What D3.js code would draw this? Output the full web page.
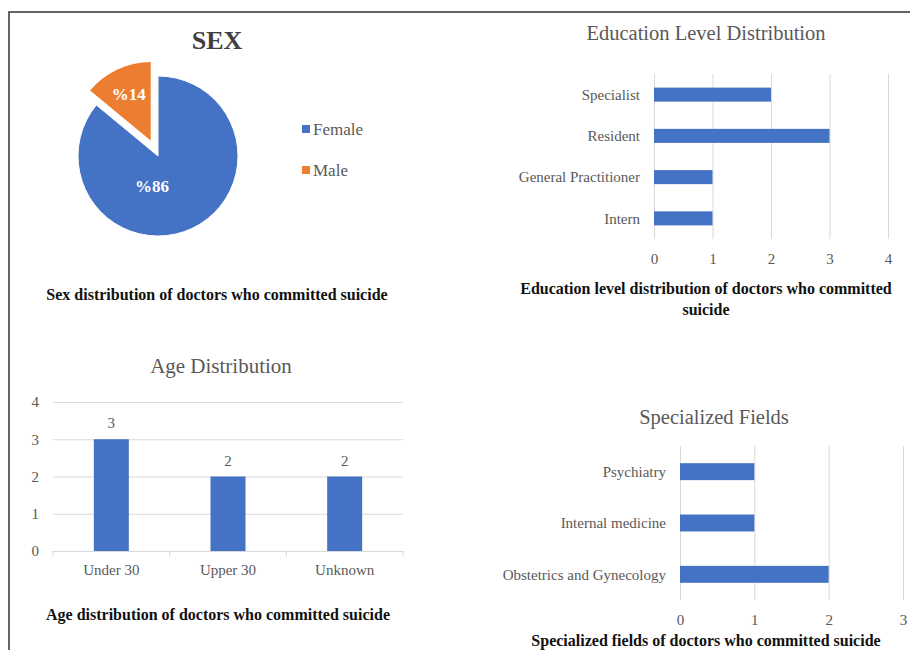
<!DOCTYPE html>
<html>
<head>
<meta charset="utf-8">
<script src="https://cdn.jsdelivr.net/npm/d3@7"></script>
<style>
  body { margin: 0; background: #fff; }
  text { font-family: "Liberation Serif", "Times New Roman", serif; }
</style>
</head>
<body>
<div id="chart"></div>
<script>
// sex pie
const sexLabels = ["Female", "Male"];
const sexValues = [86, 14];
const sexColors = ["#4472C4", "#ED7D31"];

// education level (top to bottom)
const eduLevels = ["Specialist", "Resident", "General Practitioner", "Intern"];
const eduCounts = [2, 3, 1, 1];
const eduTicks = [0, 1, 2, 3, 4];

// age groups
const ageGroups = ["Under 30", "Upper 30", "Unknown"];
const ageCounts = [3, 2, 2];
const ageTicks = [0, 1, 2, 3, 4];

// specialized fields (top to bottom)
const fields = ["Psychiatry", "Internal medicine", "Obstetrics and Gynecology"];
const fieldCounts = [1, 1, 2];
const fieldTicks = [0, 1, 2, 3];

const blue = "#4472C4";
const gray = "#595959";
const grid = "#d9d9d9";

const svg = d3.select("#chart")
  .append("svg")
  .attr("width", 910)
  .attr("height", 650);

// page frame lines
svg.append("path")
  .attr("d", d3.line()([[9, 650], [9, 12], [910, 12]]))
  .attr("stroke", "#333")
  .attr("stroke-width", 1.5)
  .attr("fill", "none");

const caption = (x, y, lines) => {
  const t = svg.append("text")
    .attr("x", x)
    .attr("y", y)
    .attr("text-anchor", "middle")
    .attr("font-size", 16)
    .attr("font-weight", "bold")
    .attr("fill", "#111");
  lines.forEach((l, i) => {
    t.append("tspan").attr("x", x).attr("dy", i === 0 ? 0 : 21).text(l);
  });
};

// ---------- SEX pie ----------
svg.append("text")
  .text("SEX")
  .attr("x", 217)
  .attr("y", 49)
  .attr("text-anchor", "middle")
  .attr("font-size", 26)
  .attr("font-weight", "bold")
  .attr("fill", "#404040");

const pieData = sexLabels.map((l, i) => ({ label: l, value: sexValues[i], color: sexColors[i] }));
const pie = d3.pie().sort(null).value(d => d.value);
const arcs = pie(pieData);
const radius = 80;
const arc = d3.arc().innerRadius(0).outerRadius(radius);
const labelArc = d3.arc().innerRadius(radius * 0.55).outerRadius(radius * 0.55);

const pieG = svg.append("g").attr("transform", "translate(158,156)");

pieG.selectAll("g.slice")
  .data(arcs)
  .enter()
  .append("g")
  .attr("class", "slice")
  .attr("transform", d => {
    if (d.data.label !== "Male") return null;
    const mid = (d.startAngle + d.endAngle) / 2;
    return `translate(${Math.sin(mid) * 16},${-Math.cos(mid) * 16})`;
  })
  .each(function (d) {
    const g = d3.select(this);
    g.append("path")
      .attr("d", arc(d))
      .attr("fill", d.data.color)
      .attr("stroke", "#fff")
      .attr("stroke-width", 1);
    const c = d.data.label === "Male" ? labelArc.centroid(d).map(v => v * 1.2) : [-6, 30];
    g.append("text")
      .text("%" + d.data.value)
      .attr("x", c[0])
      .attr("y", c[1])
      .attr("dy", "0.35em")
      .attr("text-anchor", "middle")
      .attr("font-size", 17)
      .attr("font-weight", "bold")
      .attr("fill", "#fff");
  });

const legend = svg.append("g");
legend.selectAll("rect")
  .data(pieData)
  .enter()
  .append("rect")
  .attr("x", 302)
  .attr("y", (d, i) => 125 + i * 41)
  .attr("width", 8)
  .attr("height", 8)
  .attr("fill", d => d.color);
legend.selectAll("text")
  .data(pieData)
  .enter()
  .append("text")
  .text(d => d.label)
  .attr("x", 313)
  .attr("y", (d, i) => 129 + i * 41)
  .attr("dy", "0.35em")
  .attr("font-size", 17)
  .attr("fill", gray);

caption(217, 300, ["Sex distribution of doctors who committed suicide"]);

// ---------- horizontal bar helper ----------
const hbar = (opts) => {
  const x = d3.scaleLinear().domain([0, d3.max(opts.ticks)]).range(opts.xr);
  const y = d3.scaleBand().domain(opts.cats).range(opts.yr)
    .paddingInner(opts.pad).paddingOuter(opts.pad / 2);

  svg.append("text")
    .text(opts.title)
    .attr("x", opts.titleX)
    .attr("y", opts.titleY)
    .attr("text-anchor", "middle")
    .attr("font-size", 20.5)
    .attr("fill", gray);

  const ax = svg.append("g")
    .attr("transform", `translate(0,${opts.yr[1]})`)
    .call(d3.axisBottom(x).tickValues(opts.ticks).tickFormat(d3.format("d"))
      .tickSize(-(opts.yr[1] - opts.yr[0])).tickPadding(14));
  ax.select(".domain").remove();
  ax.selectAll(".tick line").attr("stroke", grid);
  ax.selectAll(".tick text")
    .attr("font-family", "Liberation Serif")
    .attr("font-size", 15)
    .attr("fill", gray);

  svg.selectAll(null)
    .data(opts.cats)
    .enter()
    .append("rect")
    .attr("x", x(0))
    .attr("y", d => y(d))
    .attr("width", (d, i) => x(opts.values[i]) - x(0))
    .attr("height", y.bandwidth())
    .attr("fill", blue);

  svg.selectAll(null)
    .data(opts.cats)
    .enter()
    .append("text")
    .text(d => d)
    .attr("x", x(0) - 14)
    .attr("y", d => y(d) + y.bandwidth() / 2)
    .attr("dy", "0.35em")
    .attr("text-anchor", "end")
    .attr("font-size", 15)
    .attr("fill", gray);
};

// ---------- Education ----------
hbar({
  title: "Education Level Distribution",
  titleX: 706, titleY: 40,
  cats: eduLevels, values: eduCounts, ticks: eduTicks,
  xr: [654, 888], yr: [74, 239], pad: 0.66
});
caption(706, 294, ["Education level distribution of doctors who committed", "suicide"]);

// ---------- Specialized ----------
hbar({
  title: "Specialized Fields",
  titleX: 714, titleY: 424,
  cats: fields, values: fieldCounts, ticks: fieldTicks,
  xr: [680, 903], yr: [446, 600], pad: 0.67
});
caption(706, 646, ["Specialized fields of doctors who committed suicide"]);

// ---------- Age ----------
svg.append("text")
  .text("Age Distribution")
  .attr("x", 221)
  .attr("y", 373)
  .attr("text-anchor", "middle")
  .attr("font-size", 21)
  .attr("fill", gray);

const ax2 = d3.scaleBand().domain(ageGroups).range([53, 403]).paddingInner(0.7).paddingOuter(0.35);
const ay2 = d3.scaleLinear().domain([0, 4]).range([551, 402]);

const yAxis = svg.append("g")
  .attr("transform", "translate(53,0)")
  .call(d3.axisLeft(ay2).tickValues(ageTicks).tickFormat(d3.format("d")).tickSize(-350).tickPadding(14));
yAxis.select(".domain").remove();
yAxis.selectAll(".tick line").attr("stroke", grid);
yAxis.selectAll(".tick text")
  .attr("font-family", "Liberation Serif")
  .attr("font-size", 15)
  .attr("fill", gray);

// category boundary ticks
const bounds = [53].concat(ageGroups.map(g => ax2(g) + ax2.bandwidth() / 2 + ax2.step() / 2));
svg.selectAll(null)
  .data(bounds)
  .enter()
  .append("line")
  .attr("x1", d => d).attr("x2", d => d)
  .attr("y1", 551).attr("y2", 556)
  .attr("stroke", grid);

svg.selectAll(null)
  .data(ageGroups)
  .enter()
  .append("rect")
  .attr("x", d => ax2(d))
  .attr("y", (d, i) => ay2(ageCounts[i]))
  .attr("width", ax2.bandwidth())
  .attr("height", (d, i) => ay2(0) - ay2(ageCounts[i]))
  .attr("fill", blue);

svg.selectAll(null)
  .data(ageGroups)
  .enter()
  .append("text")
  .text((d, i) => ageCounts[i])
  .attr("x", d => ax2(d) + ax2.bandwidth() / 2)
  .attr("y", (d, i) => ay2(ageCounts[i]) - 11)
  .attr("text-anchor", "middle")
  .attr("font-size", 15)
  .attr("fill", gray);

svg.selectAll(null)
  .data(ageGroups)
  .enter()
  .append("text")
  .text(d => d)
  .attr("x", d => ax2(d) + ax2.bandwidth() / 2)
  .attr("y", 575)
  .attr("text-anchor", "middle")
  .attr("font-size", 15)
  .attr("fill", gray);

caption(218, 620, ["Age distribution of doctors who committed suicide"]);
</script>
</body>
</html>
